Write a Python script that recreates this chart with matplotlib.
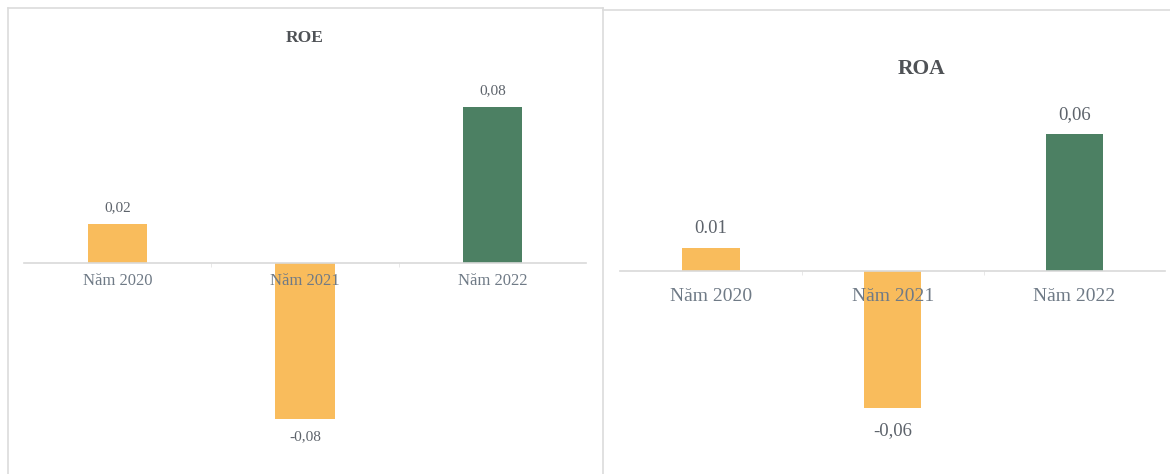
import matplotlib
matplotlib.use("Agg")
import matplotlib.pyplot as plt
from matplotlib.lines import Line2D

years = ["Năm 2020", "Năm 2021", "Năm 2022"]
roe = [0.02, -0.08, 0.08]
roe_labels = ["0,02", "-0,08", "0,08"]
roa = [0.01, -0.06, 0.06]
roa_labels = ["0.01", "-0,06", "0,06"]

ORANGE = "#f9bc5c"
GREEN = "#4c8063"
TICK_TEXT = "#6f7a86"
VAL_TEXT = "#5d636b"
GRID = "#d9d9d9"

plt.rcParams["font.family"] = ["Liberation Serif", "DejaVu Serif"]

fig = plt.figure(figsize=(11.7, 4.74), dpi=100)
fig.patch.set_facecolor("white")


def draw_panel(ax, values, labels, ylim, tick_size, val_size, tick_pad, up_off, down_off):
    colors = [GREEN if i == len(values) - 1 else ORANGE for i in range(len(values))]
    bars = ax.bar(years, values, width=0.315, color=colors, zorder=1)
    ax.set_xlim(-0.5, 2.5)
    ax.set_ylim(*ylim)
    for s in ["top", "right", "left"]:
        ax.spines[s].set_visible(False)
    ax.spines["bottom"].set_position(("data", 0))
    ax.spines["bottom"].set_color(GRID)
    ax.spines["bottom"].set_linewidth(1.2)
    ax.set_yticks([])
    ax.tick_params(axis="x", which="major", length=0, labelsize=tick_size,
                   labelcolor=TICK_TEXT, pad=tick_pad)
    ax.set_xticks([0.5, 1.5], minor=True)
    ax.tick_params(axis="x", which="minor", length=3, color="#e4e4e4")
    ax.patch.set_alpha(0)
    for b, v, lab in zip(bars, values, labels):
        off = up_off if v >= 0 else -down_off
        ax.annotate(lab, (b.get_x() + b.get_width() / 2, v),
                    xytext=(0, off), textcoords="offset points",
                    ha="center", va="center", fontsize=val_size, color=VAL_TEXT)


ax1 = fig.add_axes([0.0203, 0.0338, 0.4808, 0.8228])
draw_panel(ax1, roe, roe_labels, (-0.1, 0.1), 12, 11, 7, 12, 13)

ax2 = fig.add_axes([0.5299, 0.019, 0.4662, 0.843])
draw_panel(ax2, roa, roa_labels, (-0.085, 0.09), 14, 13.5, 12, 14, 16)

fig.text(305 / 1170, 1 - 38 / 474, "ROE", ha="center", va="center",
         fontsize=12.5, fontweight="bold", color="#4f5256")
fig.text(922 / 1170, 1 - 69 / 474, "ROA", ha="center", va="center",
         fontsize=15.5, fontweight="bold", color="#4f5256")

# panel borders
border = "#dcdcdc"
W, H = 1170, 474
for (x0, y0, x1, y1) in [(8, 8, 603, 8), (8, 8, 8, 474), (603, 8, 603, 474),
                         (603, 10, 1170, 10)]:
    fig.add_artist(Line2D([x0 / W, x1 / W], [1 - y0 / H, 1 - y1 / H],
                          color=border, lw=1.2, transform=fig.transFigure))

fig.savefig("out.png", dpi=100, facecolor="white")
